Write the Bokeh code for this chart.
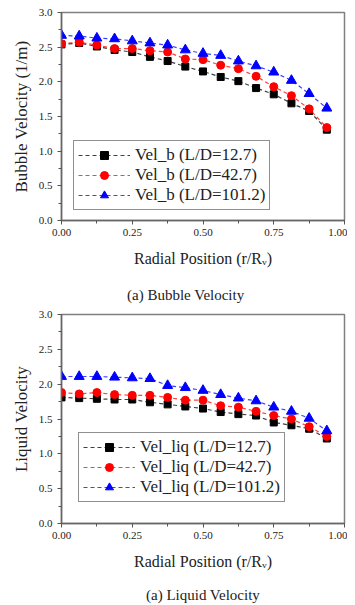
from bokeh.plotting import figure
from bokeh.layouts import column
from bokeh.models import (Div, Legend, LegendItem, SingleIntervalTicker,
                          NumeralTickFormatter, Range1d)
from bokeh.embed import file_html
from bokeh.resources import INLINE

# ---- data ----
r_pos = [0.0, 0.0625, 0.125, 0.1875, 0.25, 0.3125, 0.375, 0.4375,
         0.5, 0.5625, 0.625, 0.6875, 0.75, 0.8125, 0.875, 0.9375]

vb_127 = [2.54, 2.56, 2.51, 2.46, 2.43, 2.36, 2.30, 2.22, 2.15, 2.07, 2.01, 1.91, 1.82, 1.69, 1.58, 1.31]
vb_427 = [2.55, 2.57, 2.53, 2.48, 2.48, 2.45, 2.43, 2.33, 2.32, 2.24, 2.19, 2.08, 1.93, 1.80, 1.61, 1.34]
vb_1012 = [2.67, 2.66, 2.63, 2.62, 2.59, 2.56, 2.53, 2.46, 2.41, 2.38, 2.30, 2.23, 2.14, 2.02, 1.83, 1.62]

vl_127 = [1.81, 1.80, 1.79, 1.78, 1.78, 1.74, 1.71, 1.68, 1.65, 1.60, 1.57, 1.55, 1.45, 1.41, 1.36, 1.22]
vl_427 = [1.88, 1.86, 1.88, 1.85, 1.84, 1.84, 1.81, 1.77, 1.77, 1.69, 1.67, 1.61, 1.55, 1.50, 1.39, 1.25]
vl_1012 = [2.11, 2.11, 2.11, 2.10, 2.09, 2.08, 1.98, 1.95, 1.91, 1.85, 1.80, 1.76, 1.67, 1.61, 1.51, 1.33]

labels_b = ["Vel_b (L/D=12.7)", "Vel_b (L/D=42.7)", "Vel_b (L/D=101.2)"]
labels_l = ["Vel_liq (L/D=12.7)", "Vel_liq (L/D=42.7)", "Vel_liq (L/D=101.2)"]
caption_b = "(a) Bubble Velocity"
caption_l = "(a) Liquid Velocity"

FONT = "Liberation Serif"
TXT = "#222222"


def make_fig(series, labels, ylabel, height, border_top, border_bottom, legend_loc):
    p = figure(width=347, height=height, output_backend="svg",
               toolbar_location=None, x_range=Range1d(0, 1), y_range=Range1d(0, 3),
               min_border_left=61, min_border_right=3,
               min_border_top=border_top, min_border_bottom=border_bottom)
    p.grid.visible = False
    p.outline_line_color = "#808080"
    p.outline_line_width = 1.5
    p.background_fill_color = "white"
    p.border_fill_color = "white"

    p.xaxis.ticker = SingleIntervalTicker(interval=0.25, num_minor_ticks=2)
    p.yaxis.ticker = SingleIntervalTicker(interval=0.5, num_minor_ticks=2)
    p.xaxis.formatter = NumeralTickFormatter(format="0.00")
    p.yaxis.formatter = NumeralTickFormatter(format="0.0")
    for ax in (p.xaxis[0], p.yaxis[0]):
        ax.axis_line_color = "#666666"
        ax.axis_line_width = 1.5
        ax.major_tick_line_color = "#555555"
        ax.minor_tick_line_color = "#555555"
        ax.major_tick_out = 4
        ax.major_tick_in = 0
        ax.minor_tick_out = 3
        ax.minor_tick_in = 0
        ax.major_label_text_font = FONT
        ax.major_label_text_font_size = "11px"
        ax.major_label_text_color = TXT
        ax.axis_label_text_font = FONT
        ax.axis_label_text_font_style = "normal"
        ax.axis_label_text_color = TXT
    p.xaxis.major_label_standoff = 4
    p.yaxis.major_label_standoff = 5
    p.xaxis.axis_label = "Radial Position (r/R\u1d65)"
    p.xaxis.axis_label_text_font_size = "16px"
    p.xaxis.axis_label_standoff = 11
    p.yaxis.axis_label = ylabel
    p.yaxis.axis_label_text_font_size = "17px"
    p.yaxis.axis_label_standoff = 5

    colors = ["black", "red", "blue"]
    markers = ["square", "circle", "triangle"]
    sizes = [7, 8, 10]
    items = []
    for ys, lab, c, m, s in zip(series, labels, colors, markers, sizes):
        lr = p.line(r_pos, ys, line_color=c, line_dash="4 3", line_width=1.2,
                    line_alpha=0.75)
        mr = p.scatter(r_pos, ys, marker=m, size=s, fill_color=c, line_color=c)
        items.append(LegendItem(label=lab, renderers=[lr, mr]))

    leg = Legend(items=items, location=legend_loc, padding=4, spacing=0,
                 margin=0, glyph_width=52, glyph_height=20, label_height=20,
                 label_standoff=5,
                 label_text_font=FONT, label_text_font_size="17px",
                 label_text_color=TXT,
                 border_line_color="#222222", border_line_width=1.5,
                 background_fill_color="white")
    p.add_layout(leg, "center")
    return p


def make_caption(text, height, line_height, indent):
    html = ('<div style="font-family:\'Liberation Serif\',serif;font-size:15px;'
            'color:#222222;white-space:nowrap;'
            f'line-height:{line_height}px;padding-left:{indent}px;">{text}</div>')
    return Div(text=html, width=347, height=height, margin=0,
               styles={"overflow": "visible"})


p1 = make_fig([vb_127, vb_427, vb_1012], labels_b, "Bubble Velocity (1/m)",
              272, 12, 52, (12, 10))
d1 = make_caption(caption_b, 33, 46, 127)
p2 = make_fig([vl_127, vl_427, vl_1012], labels_l, "Liquid Velocity",
              270, 9, 52, (17, 21))
d2 = make_caption(caption_l, 28, 40, 146)

layout = column(p1, d1, p2, d2, spacing=0)
open("out.html", "w").write(file_html(layout, INLINE))
